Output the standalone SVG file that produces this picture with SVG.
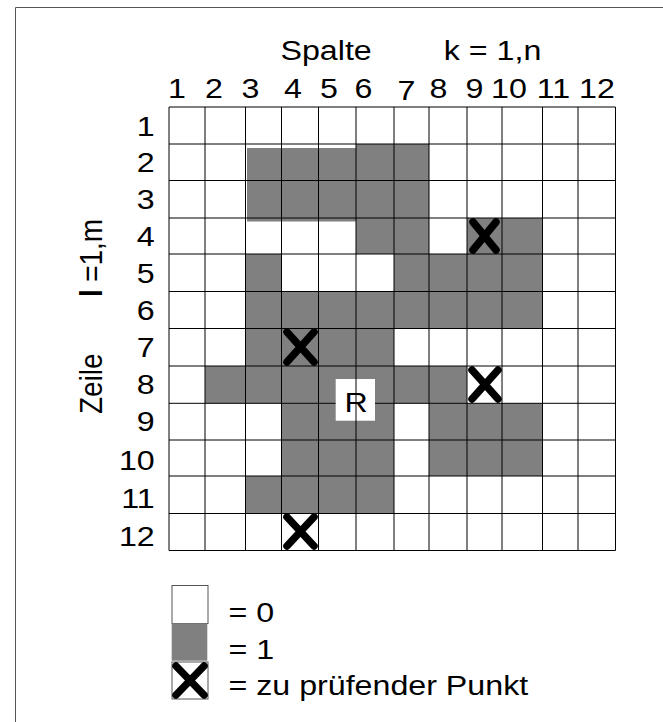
<svg xmlns="http://www.w3.org/2000/svg" width="663" height="722" viewBox="0 0 663 722">
<style>
.t{font-family:"Liberation Sans",Arial,sans-serif;font-size:28px;fill:#000}
.m{text-anchor:middle}
.e{text-anchor:end}
.g{fill:#808080}
.ln{stroke:#000;stroke-width:1;fill:none}
.x{stroke:#000;stroke-width:7.5;stroke-linecap:round;fill:none}
</style>
<rect width="663" height="722" fill="#fff"/>
<path d="M15.5 722V7.5H663" stroke="#555" stroke-width="1" fill="none"/>

<g id="cells">
<rect class="g" x="247" y="148" width="109" height="73.5"/>
<rect class="g" x="356" y="144" width="73" height="110"/>
<rect class="g" x="467" y="218" width="75.5" height="36"/>
<rect class="g" x="245.5" y="254" width="36" height="37.5"/>
<rect class="g" x="394" y="254" width="148.5" height="37.5"/>
<rect class="g" x="245.5" y="291.5" width="297" height="37"/>
<rect class="g" x="245.5" y="328.5" width="148.5" height="37.5"/>
<rect class="g" x="205" y="366" width="262" height="37.3"/>
<rect class="g" x="281.5" y="403.3" width="112.5" height="72.7"/>
<rect class="g" x="429" y="403.3" width="113.5" height="72.7"/>
<rect class="g" x="245.5" y="476" width="148.5" height="37.5"/>
</g>

<g id="grid-rows" class="ln">
<path d="M169 107H615.5M169 144H615.5M169 180.5H615.5M169 218H615.5M169 254H615.5M169 291.5H615.5M169 328.5H615.5M169 366H615.5M169 403.3H615.5M169 440H615.5M169 476H615.5M169 513.5H615.5M169 550.5H615.5"/>
</g>

<rect id="r-box" x="335.7" y="379" width="39.3" height="41.7" fill="#fff"/>

<g id="grid-cols" class="ln">
<path d="M169 107V550.5M205 107V550.5M245.5 107V550.5M281.5 107V550.5M318.5 107V550.5M356 107V550.5M394 107V550.5M429 107V550.5M467 107V550.5M502 107V550.5M542.5 107V550.5M578 107V550.5M615.5 107V550.5"/>
</g>

<text id="r-label" class="t m" transform="translate(356,411.5) scale(1.15,1)">R</text>

<g id="marks" class="x">
<path d="M473 222L496 250M496 222L473 250"/>
<path d="M287 332L314 362M314 332L287 362"/>
<path d="M472 370L498 399M498 370L472 399"/>
<path d="M287 517L314 546M314 517L287 546"/>
</g>

<g id="titles">
<text class="t" transform="translate(280.5,60) scale(1.15,1)">Spalte</text>
<text class="t" transform="translate(443.8,60) scale(1.15,1)">k = 1,n</text>
<text class="t" transform="translate(102,414) scale(1.15,1) rotate(-90)">Zeile</text>
<text class="t" transform="translate(102,297) scale(1.15,1) rotate(-90)" textLength="78" lengthAdjust="spacing"><tspan font-weight="bold">l</tspan> =1,m</text>
</g>

<g id="col-labels">
<text class="t m" transform="translate(177,97.5) scale(1.15,1)">1</text>
<text class="t m" transform="translate(214,97.5) scale(1.15,1)">2</text>
<text class="t m" transform="translate(250.5,97.5) scale(1.15,1)">3</text>
<text class="t m" transform="translate(293,97.5) scale(1.15,1)">4</text>
<text class="t m" transform="translate(329,97.5) scale(1.15,1)">5</text>
<text class="t m" transform="translate(363.5,97.5) scale(1.15,1)">6</text>
<text class="t m" transform="translate(406.5,100) scale(1.15,1)">7</text>
<text class="t m" transform="translate(438.5,97.5) scale(1.15,1)">8</text>
<text class="t m" transform="translate(474.5,97.5) scale(1.15,1)">9</text>
<text class="t m" transform="translate(509,97.5) scale(1.15,1)">10</text>
<text class="t m" transform="translate(553.5,97.5) scale(1.15,1)">11</text>
<text class="t m" transform="translate(597,97.5) scale(1.15,1)">12</text>
</g>

<g id="row-labels">
<text class="t e" transform="translate(154.7,135.5) scale(1.15,1)">1</text>
<text class="t e" transform="translate(154.7,172) scale(1.15,1)">2</text>
<text class="t e" transform="translate(154.7,209) scale(1.15,1)">3</text>
<text class="t e" transform="translate(154.7,246) scale(1.15,1)">4</text>
<text class="t e" transform="translate(154.7,283) scale(1.15,1)">5</text>
<text class="t e" transform="translate(154.7,319.5) scale(1.15,1)">6</text>
<text class="t e" transform="translate(154.7,356.5) scale(1.15,1)">7</text>
<text class="t e" transform="translate(154.7,394) scale(1.15,1)">8</text>
<text class="t e" transform="translate(154.7,431) scale(1.15,1)">9</text>
<text class="t e" transform="translate(154.7,470) scale(1.15,1)">10</text>
<text class="t e" transform="translate(154.7,507.5) scale(1.15,1)">11</text>
<text class="t e" transform="translate(154.7,546) scale(1.15,1)">12</text>
</g>

<g id="legend">
<rect x="172" y="585.5" width="36" height="38" fill="#fff" stroke="#555" stroke-width="1"/>
<rect class="g" x="171.7" y="623.3" width="35.6" height="37.4"/>
<rect x="172" y="662" width="36" height="37" fill="#fff" stroke="#555" stroke-width="1"/>
<path class="x" d="M176 666L204 695M204 666L176 695"/>
<text class="t" transform="translate(228.5,621.5) scale(1.15,1)">= 0</text>
<text class="t" transform="translate(228.5,659) scale(1.15,1)">= 1</text>
<text class="t" transform="translate(228.5,695) scale(1.15,1)">= zu prüfender Punkt</text>
</g>
</svg>
